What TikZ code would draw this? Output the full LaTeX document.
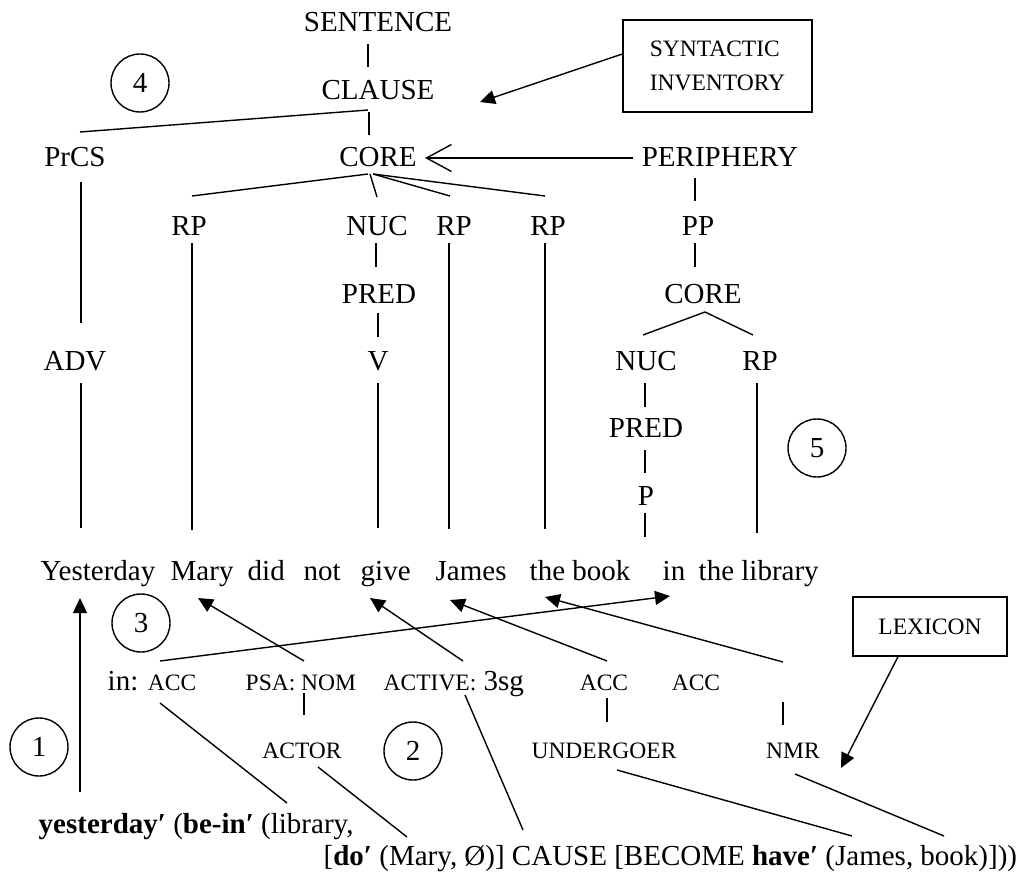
\documentclass[tikz,border=0pt]{standalone}
\usepackage{fontspec}
\setmainfont{Liberation Serif}
\usetikzlibrary{arrows.meta}
\newcommand{\mainsize}{\fontsize{29}{34}\selectfont}
\newcommand{\labsize}{\fontsize{23.5}{34}\selectfont}
\begin{document}
\begin{tikzpicture}[x=1pt,y=-1pt,line width=1.4pt,
  lab/.style={inner sep=0pt,anchor=base,font=\mainsize},
  slab/.style={inner sep=0pt,anchor=base,font=\labsize},
  word/.style={inner sep=0pt,anchor=base west,font=\mainsize},
  num/.style={circle,draw,minimum size=58pt,inner sep=0pt,font=\mainsize},
  boxed/.style={draw,inner sep=0pt,font=\labsize,align=left},
  tip/.style={-{Triangle[length=15pt,width=14pt]}},
  opentip/.style={-{Straight Barb[length=25pt,width=27pt]}}]
\useasboundingbox (0,0) rectangle (1026,872);

% ---- clause tree ----
\node[lab] (sentence) at (378,32) {SENTENCE};
\node[lab] (clause) at (378,100) {CLAUSE};
\node[lab] (prcs) at (75,167) {PrCS};
\node[lab] (core) at (378,167) {CORE};
\node[lab] (periphery) at (720,167) {PERIPHERY};
\node[lab] (rp1) at (189,235) {RP};
\node[lab] (nuc) at (377,235) {NUC};
\node[lab] (rp2) at (454,235) {RP};
\node[lab] (rp3) at (548,235) {RP};
\node[lab] (pp) at (698,235) {PP};
\node[lab] (pred) at (379,303) {PRED};
\node[lab] (pcore) at (703,303) {CORE};
\node[lab] (adv) at (75,370) {ADV};
\node[lab] (v) at (378,370) {V};
\node[lab] (pnuc) at (646,370) {NUC};
\node[lab] (prp) at (760,370) {RP};
\node[lab] (ppred) at (646,437) {PRED};
\node[lab] (p) at (646,505) {P};

% ---- sentence ----
\node[word] (w1) at (40,580) {Yesterday};
\node[word] (w2) at (170,580) {Mary};
\node[word] (w3) at (247,580) {did};
\node[word] (w4) at (303,580) {not};
\node[word] (w5) at (360,580) {give};
\node[word] (w6) at (435,580) {James};
\node[word] (w7) at (529,580) {the book};
\node[word] (w8) at (662,580) {in};
\node[word] (w9) at (698,580) {the library};

% ---- circled step numbers ----
\node[num] (c4) at (140,83) {4};
\node[num] (c5) at (817,448) {5};
\node[num] (c3) at (141,623) {3};
\node[num] (c1) at (39,747) {1};
\node[num] (c2) at (413,751) {2};

% ---- boxes ----
\node[boxed,minimum width=189pt,minimum height=92pt] (syn) at (717.5,66) {SYNTACTIC\\INVENTORY};
\node[boxed,minimum width=154pt,minimum height=59pt] (lex) at (930,626.5) {LEXICON};

% ---- morphosyntactic labels ----
\node[word] (inacc) at (107,690) {in: {\labsize ACC}};
\node[word,font=\labsize] (psa) at (245,690) {PSA: NOM};
\node[word] (active) at (383,690) {{\labsize ACTIVE:} 3sg};
\node[slab] (acc1) at (604,690) {ACC};
\node[slab] (acc2) at (696,690) {ACC};
\node[slab] (actor) at (302,758) {ACTOR};
\node[slab] (undergoer) at (604,758) {UNDERGOER};
\node[slab] (nmr) at (793,758) {NMR};
\coordinate (lexend) at (841,768);

% ---- logical structure ----
\node[word] (ls1) at (38,833) {\textbf{yesterday′} (\textbf{be-in′} (library,};
\node[word] (ls2) at (323,865) {[\textbf{do′} (Mary, Ø)] CAUSE [BECOME \textbf{have′} (James, book)]))};

% ---- tree branches ----
\draw ([shift={(-10,12)}]sentence.base) -- ([shift={(-10,-33)}]clause.base);
\draw ([shift={(-10,10)}]clause.base) -- ([shift={(5,-35)}]prcs.base);
\draw ([shift={(-9,12)}]clause.base) -- ([shift={(-9,-32)}]core.base);
\draw ([shift={(-10,7)}]core.base) -- ([shift={(3,-39)}]rp1.base);
\draw ([shift={(-8,7)}]core.base) -- ([shift={(0,-38)}]nuc.base);
\draw ([shift={(-5,7)}]core.base) -- ([shift={(-4,-39)}]rp2.base);
\draw ([shift={(-5,7)}]core.base) -- ([shift={(-3,-39)}]rp3.base);
\draw[opentip] ([shift={(-87,-9)}]periphery.base) -- ([shift={(47,-9)}]core.base);
\draw ([shift={(-25,11)}]periphery.base) -- ([shift={(-3,-34)}]pp.base);
\draw ([shift={(-3,8)}]pp.base) -- ([shift={(-8,-36)}]pcore.base);
\draw ([shift={(-1,8)}]nuc.base) -- ([shift={(-3,-36)}]pred.base);
\draw ([shift={(-1,10)}]pred.base) -- ([shift={(0,-33)}]v.base);
\draw ([shift={(0,13)}]v.base) -- ([shift={(18,-52)}]w5.base west);
\draw ([shift={(6,15)}]prcs.base) -- ([shift={(6,-47)}]adv.base);
\draw ([shift={(6,13)}]adv.base) -- ([shift={(41,-52)}]w1.base west);
\draw ([shift={(3,8)}]rp1.base) -- ([shift={(22,-50)}]w2.base west);
\draw ([shift={(-5,8)}]rp2.base) -- ([shift={(14,-51)}]w6.base west);
\draw ([shift={(-3,8)}]rp3.base) -- ([shift={(16,-51)}]w7.base west);
\draw ([shift={(2,9)}]pcore.base) -- ([shift={(-3,-35)}]pnuc.base);
\draw ([shift={(2,9)}]pcore.base) -- ([shift={(-7,-35)}]prp.base);
\draw ([shift={(-1,13)}]pnuc.base) -- ([shift={(-1,-30)}]ppred.base);
\draw ([shift={(-1,13)}]ppred.base) -- ([shift={(-1,-32)}]p.base);
\draw ([shift={(-1,8)}]p.base) -- ([shift={(-17,-43)}]w8.base west);
\draw ([shift={(-3,13)}]prp.base) -- ([shift={(59,-47)}]w9.base west);

% ---- inventory and lexicon ----
\draw[tip] ([yshift=12pt]syn.west) -- ([shift={(102,2)}]clause.base);
\draw[tip] ([xshift=-32pt]lex.south) -- (lexend);

% ---- linking arrows ----
\draw[tip] ([shift={(42,-41)}]ls1.base west) -- ([shift={(40,18)}]w1.base west);
\draw[tip] ([shift={(59,-29)}]psa.base west) -- ([shift={(28,18)}]w2.base west);
\draw[tip] ([shift={(80,-29)}]active.base west) -- ([shift={(10,18)}]w5.base west);
\draw[tip] ([shift={(3,-29)}]acc1.base) -- ([shift={(15,20)}]w6.base west);
\draw[tip] ([shift={(-10,-96)}]nmr.base) -- ([shift={(16,17)}]w7.base west);
\draw[tip] ([shift={(53,-29)}]inacc.base west) -- ([shift={(8,16)}]w8.base west);

% ---- role links ----
\draw ([shift={(59,3)}]psa.base west) -- ([shift={(2,-43)}]actor.base);
\draw ([shift={(3,8)}]acc1.base) -- ([shift={(3,-36)}]undergoer.base);
\draw ([shift={(-10,-56)}]nmr.base) -- ([shift={(-10,-33)}]nmr.base);

% ---- links to the logical structure ----
\draw ([shift={(53,13)}]inacc.base west) -- ([shift={(249,-30)}]ls1.base west);
\draw ([shift={(16,9)}]actor.base) -- ([shift={(84,-28)}]ls2.base west);
\draw ([shift={(82,5)}]active.base west) -- ([shift={(200,-35)}]ls2.base west);
\draw ([shift={(13,12)}]undergoer.base) -- ([shift={(529,-29)}]ls2.base west);
\draw ([shift={(2,16)}]nmr.base) -- ([shift={(621,-29)}]ls2.base west);
\end{tikzpicture}
\end{document}
